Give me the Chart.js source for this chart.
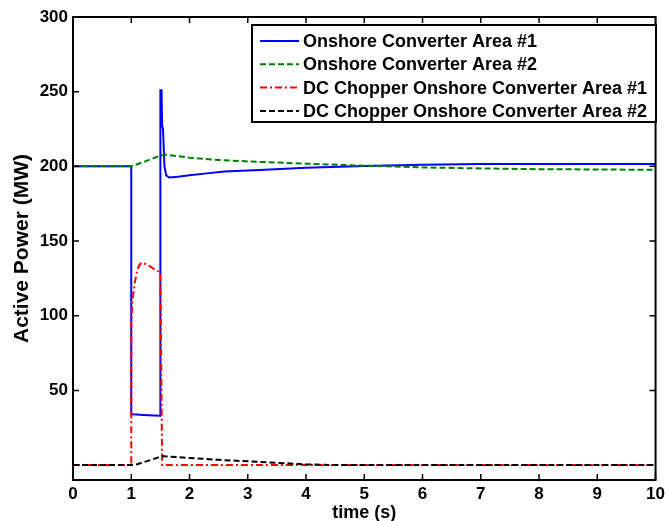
<!DOCTYPE html>
<html>
<head>
<meta charset="utf-8">
<script src="https://cdn.jsdelivr.net/npm/chart.js@4/dist/chart.umd.min.js"></script>
<style>
  html, body { margin: 0; padding: 0; background: #fff; }
  canvas { display: block; }
</style>
</head>
<body>
<canvas id="c" width="669" height="521"></canvas>
<script>
// ---- data ----
const seriesLabels = [
  'Onshore Converter Area #1',
  'Onshore Converter Area #2',
  'DC Chopper Onshore Converter Area #1',
  'DC Chopper Onshore Converter Area #2'
];

const timeArea1 = [0, 1.0, 1.0, 1.1, 1.2, 1.3, 1.4, 1.5, 1.5, 1.52, 1.53, 1.545, 1.57, 1.6, 1.65, 1.8, 2.0, 2.3, 2.6, 3.2, 4.0, 5.0, 6.0, 7.0, 8.0, 9.0, 10.0];
const powerArea1 = [200, 200, 34, 33.8, 33.6, 33.4, 33.2, 33, 251, 251, 227, 225, 200, 194, 192.5, 193, 194, 195.3, 196.5, 197.6, 199, 200.3, 201, 201.5, 201.5, 201.5, 201.5];

const timeArea2 = [0, 1.0, 1.25, 1.5, 1.6, 2.0, 2.5, 3.0, 4.0, 5.0, 6.0, 7.0, 8.0, 9.0, 10.0];
const powerArea2 = [200, 200, 203.5, 207.2, 207.8, 205.8, 204.3, 203.3, 201.8, 200.4, 199.3, 198.6, 198.1, 197.9, 197.7];

const timeChopper1 = [0, 1.0, 1.0, 1.02, 1.06, 1.1, 1.14, 1.18, 1.25, 1.3, 1.4, 1.5, 1.53, 10.0];
const powerChopper1 = [0, 0, 95, 110, 122, 130, 134, 135.5, 134.5, 133.5, 131, 129, 0, 0];

const timeChopper2 = [0, 1.0, 1.1, 1.2, 1.35, 1.53, 1.6, 2.0, 2.5, 3.0, 3.5, 4.0, 4.5, 10.0];
const powerChopper2 = [0, 0, 0.5, 1.8, 3.6, 6, 5.8, 4.8, 3.5, 2.5, 1.5, 0.5, 0, 0];

const xTickValues = [0, 1, 2, 3, 4, 5, 6, 7, 8, 9, 10];
const yTickValues = [50, 100, 150, 200, 250, 300];

const toXY = (t, v) => t.map((x, i) => ({ x: x, y: v[i] }));

const FONT = '"Liberation Sans", Arial, Helvetica, sans-serif';

const framePlugin = {
  id: 'frame',
  afterDraw(chart) {
    const { ctx, chartArea: a, scales: { x, y } } = chart;
    ctx.save();
    // box
    ctx.strokeStyle = '#000';
    ctx.lineWidth = 2;
    ctx.strokeRect(a.left, a.top, a.right - a.left, a.bottom - a.top);
    // inward ticks
    ctx.lineWidth = 1.5;
    ctx.beginPath();
    x.ticks.forEach(t => {
      const px = x.getPixelForValue(t.value);
      ctx.moveTo(px, a.bottom); ctx.lineTo(px, a.bottom - 6);
      ctx.moveTo(px, a.top); ctx.lineTo(px, a.top + 6);
    });
    y.ticks.forEach(t => {
      const py = y.getPixelForValue(t.value);
      ctx.moveTo(a.left, py); ctx.lineTo(a.left + 6, py);
      ctx.moveTo(a.right, py); ctx.lineTo(a.right - 6, py);
    });
    ctx.stroke();

    // legend box
    const L = 252, T = 25, R = 656, B = 122;
    ctx.fillStyle = '#fff';
    ctx.fillRect(L, T, R - L, B - T);
    ctx.lineWidth = 2;
    ctx.strokeStyle = '#000';
    ctx.strokeRect(L, T, R - L, B - T);
    ctx.font = 'bold 18px ' + FONT;
    ctx.textBaseline = 'middle';
    ctx.textAlign = 'left';
    chart.data.datasets.forEach((ds, i) => {
      const cy = 41 + i * 23.3;
      ctx.beginPath();
      ctx.setLineDash(ds.borderDash || []);
      ctx.strokeStyle = ds.borderColor;
      ctx.lineWidth = 2;
      ctx.moveTo(260, cy); ctx.lineTo(299, cy);
      ctx.stroke();
      ctx.setLineDash([]);
      ctx.fillStyle = '#000';
      ctx.fillText(ds.label, 303, cy + 1);
    });
    ctx.restore();
  }
};

new Chart(document.getElementById('c'), {
  type: 'line',
  data: {
    datasets: [
      { label: seriesLabels[0], data: toXY(timeArea1, powerArea1), borderColor: '#0000ff', borderWidth: 2, order: 4 },
      { label: seriesLabels[1], data: toXY(timeArea2, powerArea2), borderColor: '#008000', borderWidth: 2, borderDash: [6, 3], order: 3 },
      { label: seriesLabels[2], data: toXY(timeChopper1, powerChopper1), borderColor: '#ff0000', borderWidth: 2, borderDash: [7, 3, 2, 3], order: 2 },
      { label: seriesLabels[3], data: toXY(timeChopper2, powerChopper2), borderColor: '#000000', borderWidth: 2, borderDash: [6, 3], order: 1 }
    ]
  },
  options: {
    responsive: false,
    animation: false,
    devicePixelRatio: 1,
    elements: { point: { radius: 0 }, line: { tension: 0, fill: false } },
    layout: { padding: { left: 0, right: 9, top: 17, bottom: 0 } },
    plugins: { legend: { display: false }, tooltip: { enabled: false } },
    scales: {
      x: {
        type: 'linear',
        min: 0, max: 10,
        afterBuildTicks: s => { s.ticks = xTickValues.map(v => ({ value: v })); },
        afterFit: s => { s.height = 41; },
        grid: { display: false, drawTicks: false },
        border: { display: false },
        ticks: { color: '#000', padding: 4, maxRotation: 0, font: { family: FONT, size: 17, weight: 'bold' } },
        title: { display: true, text: 'time (s)', color: '#000', padding: { top: 0, bottom: -3 }, font: { family: FONT, size: 18, weight: 'bold' } }
      },
      y: {
        type: 'linear',
        min: -10, max: 300,
        afterBuildTicks: s => { s.ticks = yTickValues.map(v => ({ value: v })); },
        afterFit: s => { s.width = 73; },
        grid: { display: false, drawTicks: false },
        border: { display: false },
        ticks: { color: '#000', padding: 5, font: { family: FONT, size: 17, weight: 'bold' } },
        title: { display: true, text: 'Active Power (MW)', color: '#000', padding: { top: 10, bottom: 0 }, font: { family: FONT, size: 21, weight: 'bold' } }
      }
    }
  },
  plugins: [framePlugin]
});
</script>
</body>
</html>
